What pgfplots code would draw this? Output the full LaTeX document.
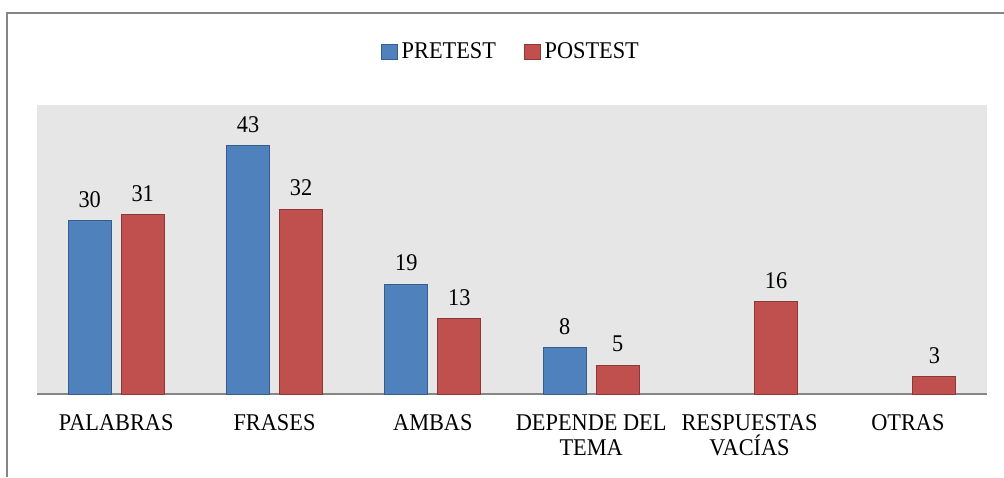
\documentclass[border=0pt]{standalone}
\usepackage{fontspec}
\setmainfont{Liberation Serif}[FakeStretch=0.93]
\usepackage{pgfplots}
\pgfplotsset{compat=1.18}
\definecolor{preF}{HTML}{4F81BD}
\definecolor{preD}{HTML}{385D8A}
\definecolor{postF}{HTML}{C0504D}
\definecolor{postD}{HTML}{8C3836}
\definecolor{bgG}{HTML}{E6E6E6}
\definecolor{lineG}{HTML}{868686}
\begin{document}
\begin{tikzpicture}
\path[use as bounding box] (0,0) rectangle (502pt,238.5pt);
\draw[color=lineG, line width=0.75pt] (3.5pt,0) -- (3.5pt,232pt) -- (502pt,232pt);
\begin{axis}[
  at={(18.5pt,41.5pt)}, anchor=south west,
  scale only axis, width=475pt, height=144.5pt,
  xmin=-0.5, xmax=5.5, ymin=0, ymax=50,
  ybar, bar width=21.5pt,
  /pgf/number format/assume math mode=true,
  axis background/.style={fill=bgG},
  axis x line*=bottom, axis y line=none,
  x axis line style={color=lineG, line width=0.75pt, -},
  xtick={0,1,2,3,4,5},
  xticklabels={PALABRAS,FRASES,AMBAS,{DEPENDE DEL\\TEMA},{RESPUESTAS\\VACÍAS},OTRAS},
  major tick length=0pt,
  xticklabel style={align=center, font=\fontsize{12}{12.5}\selectfont, yshift=-7pt},
  nodes near coords={\pgfmathprintnumber[assume math mode=true]{\pgfplotspointmeta}},
  nodes near coords style={font=\fontsize{12}{12.5}\selectfont, yshift=3pt, color=black},
  legend style={draw=none, fill=none, legend columns=2, at={(0.5,1)}, anchor=center, yshift=26.5pt,
    font=\fontsize{12}{12.5}\selectfont,
    /tikz/every even column/.append style={column sep=12pt}},
  legend image code/.code={\draw[#1, bar shift=0pt] (0pt,-3.9pt) rectangle (7.8pt,3.9pt);},
]
\addplot[fill=preF, draw=preD, line width=0.5pt, bar shift=-13.25pt] coordinates {(0,30) (1,43) (2,19) (3,8)};
\addplot[fill=postF, draw=postD, line width=0.5pt, bar shift=13.25pt] coordinates {(0,31) (1,32) (2,13) (3,5) (4,16) (5,3)};
\legend{PRETEST,POSTEST}
\end{axis}
\end{tikzpicture}
\end{document}
